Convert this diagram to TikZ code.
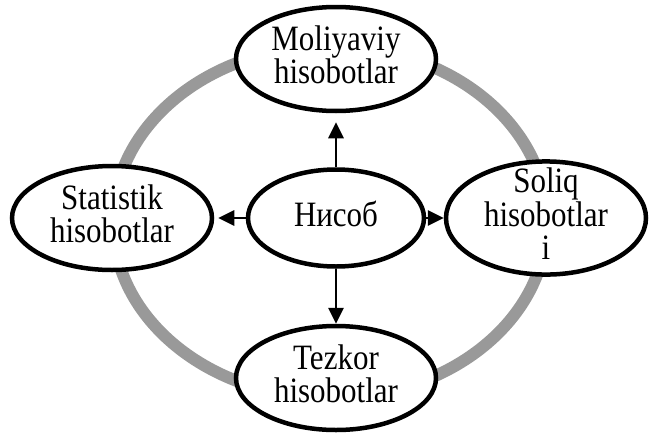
\documentclass[tikz,border=0pt]{standalone}
\usepackage{graphicx}
\usepackage{fontspec}
\setmainfont{Liberation Serif}
\usetikzlibrary{shapes.geometric,arrows.meta}
\definecolor{ringgrey}{gray}{0.6}
\newcommand{\stx}[1]{\scalebox{1}[1.15]{\begin{tabular}{@{}c@{}}#1\end{tabular}}}
\tikzset{
  oval/.style={ellipse, draw=black, line width=4.5pt, fill=white, inner sep=0pt,
    minimum width=200pt, minimum height=104pt, align=center,
    font=\fontsize{31pt}{26pt}\selectfont},
  conn/.style={line width=2.8pt, -{Triangle[length=16pt,width=15pt]}},
  ring/.style={line width=12pt, draw=ringgrey}
}
\begin{document}
\begin{tikzpicture}[x=1pt,y=-1pt]
\useasboundingbox (0,0) rectangle (650,434);
\draw[ring] (330,222) ellipse [x radius=217pt, y radius=176pt];
\node[oval] (mol) at (336,59) {\stx{Moliyaviy\\hisobotlar}};
\node[oval] (stat) at (112,218) {\stx{Statistik\\hisobotlar}};
\node[oval, inner ysep=-10pt] (sol) at (546,218) {\stx{Soliq\\hisobotlar\\i}};
\node[oval] (tez) at (336,378) {\stx{Tezkor\\hisobotlar}};
\node[oval, minimum width=176pt, minimum height=97pt] (nis) at (336,218) {\stx{Нисоб}};
\draw[conn, shorten >=9pt] (nis) -- (mol);
\draw[conn, shorten >=4pt] (nis) -- (stat);
\draw[conn] (nis) -- (sol);
\draw[conn] (nis) -- (tez);
\end{tikzpicture}
\end{document}
